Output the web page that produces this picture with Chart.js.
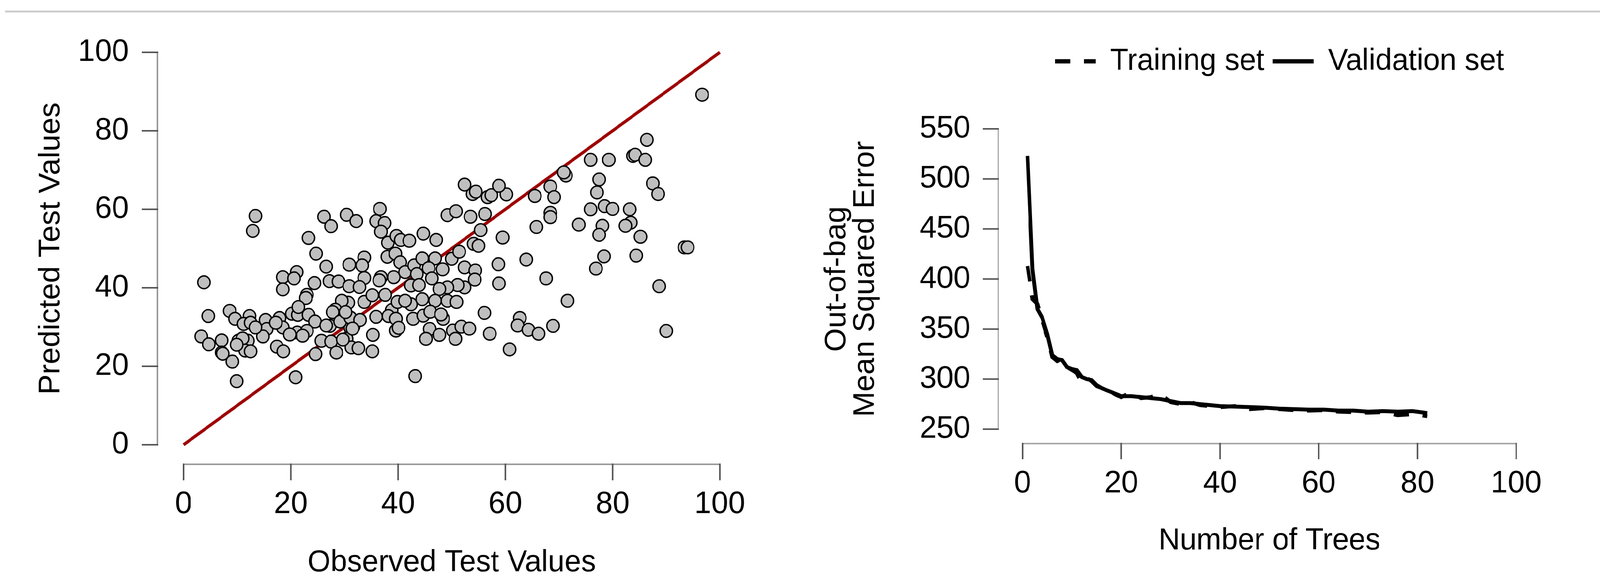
<!DOCTYPE html>
<html>
<head>
<meta charset="utf-8">
<script src="https://cdn.jsdelivr.net/npm/chart.js@4.4.1/dist/chart.umd.min.js"></script>
<style>
  html, body { margin: 0; padding: 0; background: #ffffff; overflow: hidden; }
  #page { position: absolute; left: 0; top: 0; width: 4201px; height: 1493px; transform-origin: 0 0; background: #ffffff; }
  #topRule { position: absolute; left: 13px; top: 27px; width: 4188px; height: 5px; background: #cdcdcd; }
  #scatterCanvas { position: absolute; left: 0; top: 0; }
  #mseCanvas { position: absolute; left: 2100px; top: 0; }
</style>
</head>
<body>
<div id="page">
  <div id="topRule"></div>
  <canvas id="scatterCanvas" width="2100" height="1493"></canvas>
  <canvas id="mseCanvas" width="2101" height="1493"></canvas>
</div>
<script>
// ---------------- DATA ----------------
// Left panel: observed vs predicted test values (paired by index)
const observed = [
  13.4, 12.9, 26.2, 27.5, 30.4, 32.2, 23.3, 24.7, 26.6, 30.9,
  3.8, 18.5, 21.1, 20.6, 18.5, 24.4, 23.0, 22.8, 27.2, 28.9,
  30.9, 30.7, 29.5, 4.6, 8.6, 9.6, 12.3, 11.2, 12.5, 15.3,
  15.5, 17.9, 18.5, 20.2, 21.3, 23.3, 24.5, 21.4, 21.2, 23.0,
  19.8, 22.2, 28.5, 27.3, 28.3, 29.9, 31.1, 30.4, 31.3, 3.3,
  4.7, 7.1, 7.1, 7.3, 9.1, 9.9, 10.2, 12.0, 11.0, 11.5,
  12.5, 9.9, 14.8, 13.4, 17.4, 18.6, 17.2, 24.6, 25.7, 27.5,
  28.5, 29.7, 20.9, 27.8, 29.2, 26.6, 31.7,
  36.6, 35.9, 37.5, 36.8, 38.1, 39.7, 40.5, 42.1, 44.7, 47.1,
  49.2, 50.8, 53.5, 56.2, 55.4, 54.1, 55.0, 59.5, 53.9, 56.7,
  57.4, 60.2, 52.4, 58.8, 54.5, 65.5, 65.8, 63.9, 58.7, 58.8,
  33.7, 33.3, 33.7, 32.8, 36.8, 39.2, 36.5, 38.0, 39.5, 40.4,
  41.3, 43.0, 43.5, 42.4, 43.9, 44.5, 46.9, 45.7, 48.3, 46.3,
  50.0, 51.4, 52.4, 54.4, 54.3, 52.4, 51.1, 49.2, 47.7, 33.7,
  35.2, 37.6, 38.8, 39.9, 42.4, 41.3, 44.5, 46.9, 49.2, 50.9,
  31.1, 32.9, 30.2, 35.9, 38.2, 39.6, 31.5, 32.6, 35.2, 35.3,
  39.6, 40.1, 42.8, 44.7, 46.0, 48.4, 48.0, 45.9, 47.7, 45.2,
  50.2, 51.8, 53.3, 50.7, 56.1, 57.1, 62.7, 62.3, 64.3, 60.8,
  43.2,
  96.7, 86.4, 83.8, 84.2, 86.1, 75.9, 79.3, 71.3, 70.9, 68.4,
  69.1, 77.5, 77.1, 87.5, 88.5, 68.4, 68.4, 75.9, 78.5, 80.0,
  83.2, 83.4, 82.4, 73.7, 78.1, 77.5, 85.2, 93.4, 94.0, 78.4,
  84.4, 76.9, 67.6, 71.6, 88.7, 90.0, 68.9, 66.2
];
const predicted = [
  58.3, 54.5, 58.1, 55.7, 58.6, 57.0, 52.7, 48.7, 45.4, 45.9,
  41.4, 42.7, 44.0, 42.4, 39.6, 41.2, 38.2, 37.4, 41.7, 41.6,
  40.4, 36.2, 36.7, 32.8, 34.1, 32.1, 32.8, 30.8, 31.1, 31.8,
  29.5, 32.3, 29.9, 33.4, 33.1, 33.1, 31.4, 35.1, 28.6, 29.0,
  28.1, 27.8, 31.9, 30.3, 34.4, 32.8, 29.8, 27.0, 24.8, 27.6,
  25.6, 26.6, 23.5, 23.2, 21.2, 16.2, 26.5, 26.5, 27.1, 24.0,
  23.8, 25.5, 27.6, 29.9, 25.0, 23.8, 31.1, 23.1, 26.5, 26.3,
  23.5, 26.8, 17.2, 33.8, 31.4, 30.4, 30.1,
  60.1, 57.0, 56.5, 54.3, 51.5, 53.2, 52.2, 52.0, 53.8, 52.2,
  58.5, 59.5, 58.1, 58.8, 54.7, 51.2, 50.7, 52.8, 63.9, 63.1,
  63.6, 63.8, 66.3, 66.0, 64.5, 63.4, 55.5, 47.2, 46.0, 41.1,
  47.7, 45.7, 42.5, 40.2, 42.7, 42.7, 41.9, 47.9, 48.7, 46.5,
  44.0, 45.7, 43.5, 40.6, 40.7, 47.5, 47.5, 45.0, 44.7, 42.4,
  47.4, 49.2, 45.2, 44.4, 42.1, 40.1, 40.7, 40.1, 39.7, 36.4,
  38.1, 38.2, 34.3, 36.4, 35.8, 36.7, 37.1, 36.7, 36.7, 36.4,
  32.4, 31.8, 33.8, 32.6, 32.8, 32.1, 29.6, 24.6, 23.8, 28.0,
  29.1, 29.8, 32.1, 32.9, 33.9, 32.1, 33.2, 29.5, 28.0, 27.0,
  29.1, 30.1, 29.6, 27.0, 33.6, 28.3, 32.3, 30.4, 29.3, 24.3,
  17.5,
  89.2, 77.7, 73.6, 73.9, 72.6, 72.6, 72.6, 68.6, 69.4, 65.8,
  63.1, 67.6, 64.3, 66.6, 63.9, 59.1, 58.0, 60.0, 60.8, 60.1,
  60.0, 56.6, 55.8, 56.1, 55.8, 53.5, 53.0, 50.3, 50.3, 48.0,
  48.2, 44.9, 42.4, 36.7, 40.4, 29.0, 30.3, 28.3
];
const identityLine = [0, 100];
const valueTicks = [0, 20, 40, 60, 80, 100];

// Right panel: out-of-bag MSE by number of trees
const trees = [1, 2, 3, 4, 5, 6, 7, 8, 9, 10,
  11, 12, 13, 14, 15, 16, 17, 18, 19, 20,
  22, 24, 26, 28, 30, 32, 34, 36, 38, 40,
  43, 46, 49, 52, 55, 58, 61, 64, 67, 70, 73, 76, 79, 82];
const trainingMSE = [413, 380, 375, 358, 342, 322, 318, 320, 312, 309,
  306, 296, 301, 298, 293, 291, 289, 287, 284, 282,
  287, 281, 282, 285, 277, 275, 277, 274, 273, 272,
  273, 270, 271, 270, 269, 268.5, 269, 267.5, 267, 266.5, 267, 264, 265, 263];
const validationMSE = [523, 410, 370, 361, 345, 324, 320, 319, 312, 310,
  309, 302, 300, 299, 294, 291, 289, 287, 285, 283,
  283, 282, 281, 280, 278, 276, 276, 275, 274, 273,
  272.5, 272, 271.5, 270.5, 270, 269.5, 269.5, 268.5, 268.5, 267.5, 268, 267.5, 268, 266];
const seriesNames = ['Training set', 'Validation set'];
const treeTicks = [0, 20, 40, 60, 80, 100];
const mseTicks = [250, 300, 350, 400, 450, 500, 550];

// ---------------- PAGE FIT ----------------
// The page is designed on a 4201 px wide sheet; if the viewport is narrower, squeeze it to fit.
(function fitPage() {
  const sx = Math.min(1, window.innerWidth / 4201);
  const sy = Math.min(1, window.innerHeight / 1493);
  document.getElementById('page').style.transform = 'scale(' + sx + ',' + sy + ')';
})();

// ---------------- STYLE / PLUGINS ----------------
const FAMILY = "'Liberation Sans', Arial, Helvetica, sans-serif";

// R-style detached axes, placed from the chart's own scales
const rAxes = {
  id: 'rAxes',
  afterDraw(chart, args, o) {
    const ctx = chart.ctx;
    const xs = chart.scales.x, ys = chart.scales.y;
    const axisY = ys.getPixelForValue(ys.min) + o.xGap;
    const axisX = xs.getPixelForValue(xs.min) - o.yGap;
    ctx.save();
    ctx.lineCap = 'butt';
    ctx.strokeStyle = o.lineColor;
    ctx.lineWidth = o.lineWidth;
    ctx.beginPath();
    ctx.moveTo(xs.getPixelForValue(xs.min), axisY);
    ctx.lineTo(xs.getPixelForValue(xs.max), axisY);
    ctx.stroke();
    ctx.beginPath();
    ctx.moveTo(axisX, ys.getPixelForValue(ys.min));
    ctx.lineTo(axisX, ys.getPixelForValue(ys.max));
    ctx.stroke();
    ctx.strokeStyle = o.tickColor;
    ctx.lineWidth = o.tickWidth;
    xs.ticks.forEach(t => {
      const p = xs.getPixelForValue(t.value);
      ctx.beginPath(); ctx.moveTo(p, axisY - o.lineWidth / 2); ctx.lineTo(p, axisY + o.tickLen); ctx.stroke();
    });
    ys.ticks.forEach(t => {
      const p = ys.getPixelForValue(t.value);
      ctx.beginPath(); ctx.moveTo(axisX + o.lineWidth / 2, p); ctx.lineTo(axisX - o.tickLen, p); ctx.stroke();
    });
    ctx.restore();
  }
};

// Line-sample legend built from the datasets' own styles
const lineLegend = {
  id: 'lineLegend',
  afterDraw(chart, args, o) {
    const ctx = chart.ctx;
    ctx.save();
    chart.data.datasets.forEach((ds, i) => {
      const x0 = o.starts[i];
      ctx.strokeStyle = ds.borderColor;
      ctx.lineWidth = o.lineWidth;
      ctx.lineCap = 'butt';
      ctx.setLineDash(ds.borderDash || []);
      ctx.beginPath();
      ctx.moveTo(x0, o.y);
      ctx.lineTo(x0 + o.segment, o.y);
      ctx.stroke();
      ctx.setLineDash([]);
      ctx.fillStyle = '#000000';
      ctx.font = o.fontSize + 'px ' + FAMILY;
      ctx.textAlign = 'left';
      ctx.textBaseline = 'middle';
      ctx.fillText(ds.label, x0 + o.segment + o.gap, o.y);
    });
    ctx.restore();
  }
};

// keep the large label padding from inflating the chart-area margins
const keepVPadding = s => { s.paddingTop = 40; s.paddingBottom = 40; };

const tickFont = { family: FAMILY, size: 80, lineHeight: 1 };
const titleFont = { family: FAMILY, size: 78, lineHeight: 1 };

// ---------------- LEFT CHART ----------------
new Chart(document.getElementById('scatterCanvas'), {
  type: 'scatter',
  data: {
    datasets: [
      {
        label: 'Identity',
        data: identityLine.map(v => ({ x: v, y: v })),
        showLine: true,
        borderColor: '#9e0000',
        borderWidth: 8,
        pointRadius: 0,
        order: 2,
        clip: false
      },
      {
        label: 'Test observations',
        data: observed.map((x, i) => ({ x: x, y: predicted[i] })),
        pointRadius: 16.3,
        pointBackgroundColor: '#bfbfbf',
        pointBorderColor: '#000000',
        pointBorderWidth: 3.6,
        order: 1,
        clip: false
      }
    ]
  },
  options: {
    responsive: false,
    devicePixelRatio: 1,
    animation: false,
    events: [],
    layout: { autoPadding: false, padding: { left: 0, top: 134, right: 210, bottom: 0 } },
    plugins: {
      legend: { display: false },
      tooltip: { enabled: false },
      rAxes: { xGap: 50, yGap: 69, tickLen: 41, lineColor: '#9a9a9a', lineWidth: 4, tickColor: '#555555', tickWidth: 4 }
    },
    scales: {
      x: {
        type: 'linear', min: 0, max: 100,
        afterBuildTicks: s => { s.ticks = valueTicks.map(v => ({ value: v })); },
        afterFit: s => { s.height = 354; s.paddingLeft = 40; s.paddingRight = 70; },
        grid: { display: false, drawTicks: false },
        border: { display: false },
        ticks: { font: tickFont, color: '#000000', padding: 113, maxRotation: 0, autoSkip: false },
        title: { display: true, text: 'Observed Test Values', font: titleFont, color: '#000000', padding: { top: 0, bottom: 13 } }
      },
      y: {
        type: 'linear', min: 0, max: 100,
        afterBuildTicks: s => { s.ticks = valueTicks.map(v => ({ value: v })); },
        afterFit: s => { s.width = 482; keepVPadding(s); },
        grid: { display: false, drawTicks: false },
        border: { display: false },
        ticks: { font: tickFont, color: '#000000', padding: 144, autoSkip: false },
        title: { display: true, text: 'Predicted Test Values', font: titleFont, color: '#000000', padding: { top: 95, bottom: 0 } }
      }
    }
  },
  plugins: [rAxes]
});

// ---------------- RIGHT CHART ----------------
new Chart(document.getElementById('mseCanvas'), {
  type: 'scatter',
  data: {
    datasets: [
      {
        label: seriesNames[0],
        data: trees.map((t, i) => ({ x: t, y: trainingMSE[i] })),
        showLine: true,
        borderColor: '#000000',
        borderWidth: 10,
        borderDash: [40, 36],
        pointRadius: 0,
        tension: 0,
        clip: false
      },
      {
        label: seriesNames[1],
        data: trees.map((t, i) => ({ x: t, y: validationMSE[i] })),
        showLine: true,
        borderColor: '#000000',
        borderWidth: 10,
        pointRadius: 0,
        tension: 0,
        clip: false
      }
    ]
  },
  options: {
    responsive: false,
    devicePixelRatio: 1,
    animation: false,
    events: [],
    layout: { autoPadding: false, padding: { left: 0, top: 330, right: 220, bottom: 0 } },
    plugins: {
      legend: { display: false },
      tooltip: { enabled: false },
      rAxes: { xGap: 37, yGap: 64, tickLen: 40, lineColor: '#a8a8a8', lineWidth: 4, tickColor: '#555555', tickWidth: 4 },
      lineLegend: { starts: [670, 1242], y: 157, segment: 107, gap: 38, lineWidth: 11, fontSize: 78 }
    },
    scales: {
      x: {
        type: 'linear', min: 0, max: 100,
        afterBuildTicks: s => { s.ticks = treeTicks.map(v => ({ value: v })); },
        afterFit: s => { s.height = 394; s.paddingLeft = 40; s.paddingRight = 70; },
        grid: { display: false, drawTicks: false },
        border: { display: false },
        ticks: { font: tickFont, color: '#000000', padding: 99.5, maxRotation: 0, autoSkip: false },
        title: { display: true, text: 'Number of Trees', font: titleFont, color: '#000000', padding: { top: 0, bottom: 69 } }
      },
      y: {
        type: 'linear', min: 250, max: 550,
        afterBuildTicks: s => { s.ticks = mseTicks.map(v => ({ value: v })); },
        afterFit: s => { s.width = 585; keepVPadding(s); },
        grid: { display: false, drawTicks: false },
        border: { display: false },
        ticks: { font: tickFont, color: '#000000', padding: 137, autoSkip: false },
        title: { display: true, text: ['Out-of-bag', 'Mean Squared Error'], font: { family: FAMILY, size: 78, lineHeight: 0.9615 }, color: '#000000', padding: { top: 59.5, bottom: 0 } }
      }
    }
  },
  plugins: [rAxes, lineLegend]
});
</script>
</body>
</html>
